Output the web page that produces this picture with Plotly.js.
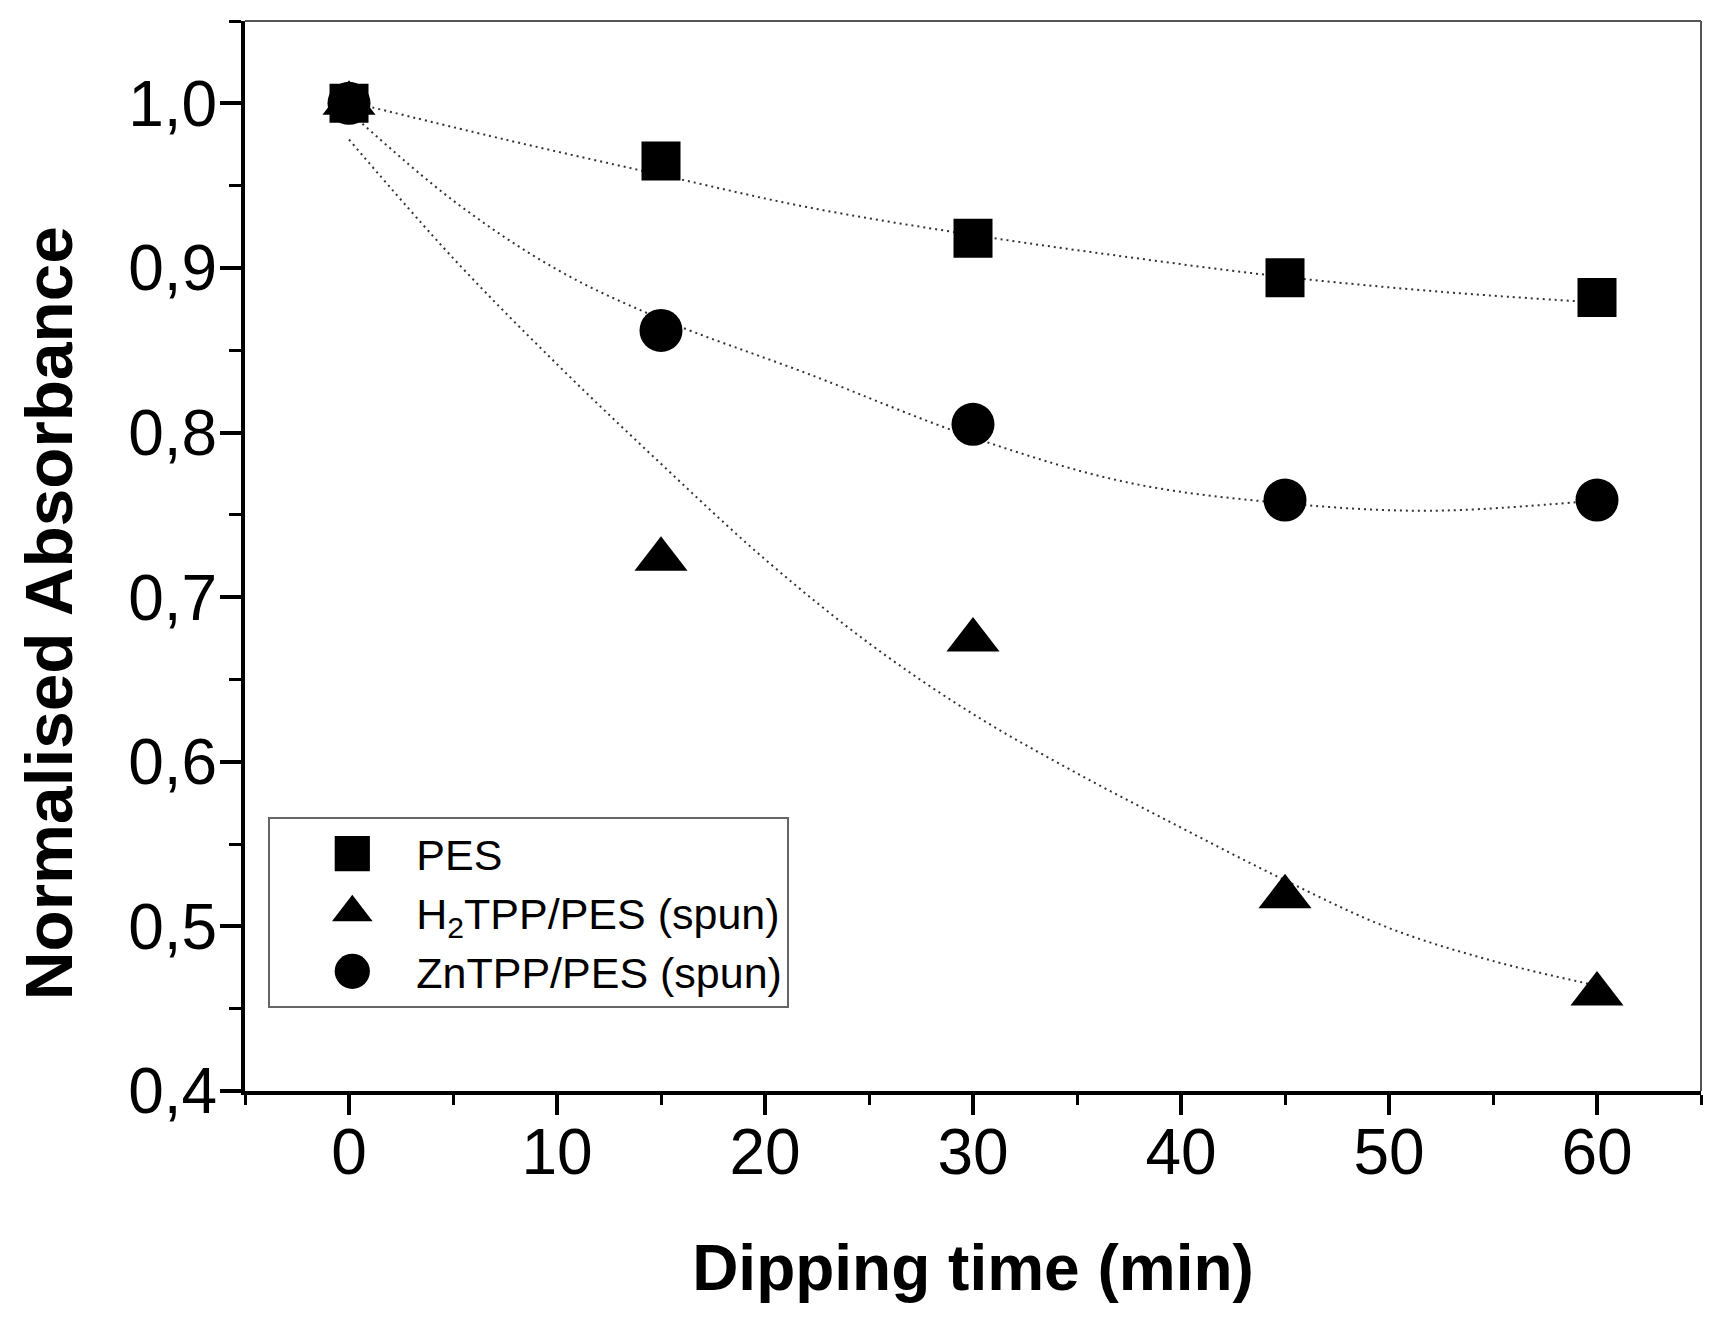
<!DOCTYPE html>
<html>
<head>
<meta charset="utf-8">
<script src="https://cdn.plot.ly/plotly-3.0.1.min.js"></script>
<style>
  body { margin: 0; background: #fff; }
  #absPlot { width: 1732px; height: 1326px; }
</style>
</head>
<body>
<div id="absPlot"></div>
<script>
/* DATA */
// dipping times (min)
let times = [0, 15, 30, 45, 60];

// measured normalised absorbance
let pesVals = [1.0, 0.965, 0.918, 0.894, 0.882];
let h2tppVals = [1.0, 0.723, 0.674, 0.518, 0.459];
let zntppVals = [1.0, 0.862, 0.805, 0.759, 0.759];

// dotted guide curves
let pesFitX = [0, 7.5, 15, 22, 30, 37.5, 45, 52.5, 60];
let pesFitY = [1.001, 0.978, 0.9565, 0.937, 0.920, 0.9065, 0.8945, 0.8855, 0.879];
let zntppFitX = [0, 5, 10, 15, 22, 30, 37.5, 45, 52, 60];
let zntppFitY = [0.995, 0.941, 0.899, 0.869, 0.836, 0.797, 0.7695, 0.757, 0.7525, 0.7588];
let h2tppFitX = [0, 5, 10, 15, 20, 25, 30, 35, 40, 45, 50, 55, 60];
let h2tppFitY = [0.978, 0.906, 0.8415, 0.781, 0.723, 0.672, 0.629, 0.593, 0.560, 0.528, 0.499, 0.479, 0.464];

let seriesNames = ['PES', 'H<sub>2</sub>TPP/PES (spun)', 'ZnTPP/PES (spun)'];

let xTitle = 'Dipping time (min)';
let yTitle = 'Normalised Absorbance';

const FONT = 'Liberation Sans, Arial, Helvetica, sans-serif';

/* TRACES */
// fit curve helper
function fitTrace(x, y) {
  return {
    type: 'scatter',
    mode: 'lines',
    x: x,
    y: y,
    showlegend: false,
    hoverinfo: 'skip',
    line: {color: '#333', width: 2, dash: '2px,4px', shape: 'spline'}
  };
}

// marker helper
function markerTrace(y, name, symbol, size) {
  return {
    type: 'scatter',
    mode: 'markers',
    x: times,
    y: y,
    name: name,
    marker: {symbol: symbol, size: size, color: 'black'}
  };
}

let data = [
  fitTrace(pesFitX, pesFitY),
  fitTrace(zntppFitX, zntppFitY),
  fitTrace(h2tppFitX, h2tppFitY),
  markerTrace(pesVals, seriesNames[0], 'square', 39),
  markerTrace(h2tppVals, seriesNames[1], 'triangle-up', 46),
  markerTrace(zntppVals, seriesNames[2], 'circle', 43)
];

/* LAYOUT */
let layout = {
  width: 1732,
  height: 1326,
  margin: {l: 245, r: 31, t: 21, b: 235},
  paper_bgcolor: 'white',
  plot_bgcolor: 'white',
  separators: ',.',
  font: {family: FONT, color: 'black'},
  xaxis: {
    range: [-5, 65],
    tickmode: 'linear',
    tick0: 0,
    dtick: 10,
    ticks: 'outside',
    ticklen: 20,
    tickwidth: 4,
    tickcolor: 'black',
    ticklabelstandoff: -18,
    tickfont: {family: FONT, size: 64, color: 'black'},
    showline: true,
    linewidth: 4,
    linecolor: 'black',
    showgrid: false,
    zeroline: false,
    minor: {dtick: 5, tick0: 0, ticks: 'outside', ticklen: 10, tickwidth: 3, tickcolor: 'black', showgrid: false},
    title: {text: xTitle, font: {family: FONT, size: 64, color: 'black', weight: 'bold'}, standoff: 59}
  },
  yaxis: {
    range: [0.4, 1.05],
    tickmode: 'linear',
    tick0: 0.4,
    dtick: 0.1,
    tickformat: '.1f',
    ticks: 'outside',
    ticklen: 21,
    tickwidth: 4,
    tickcolor: 'black',
    ticklabelstandoff: -10,
    tickfont: {family: FONT, size: 64, color: 'black'},
    showline: true,
    linewidth: 4,
    linecolor: 'black',
    showgrid: false,
    zeroline: false,
    minor: {dtick: 0.05, tick0: 0.4, ticks: 'outside', ticklen: 12, tickwidth: 3, tickcolor: 'black', showgrid: false}
  },
  annotations: [{
    text: yTitle,
    xref: 'paper', yref: 'paper',
    x: -0.135, y: 0.447,
    xanchor: 'center', yanchor: 'middle',
    textangle: -90,
    showarrow: false,
    font: {family: FONT, size: 67.5, color: 'black', weight: 'bold'}
  }],
  // thin frame on top and right
  shapes: [
    {type: 'line', xref: 'paper', yref: 'paper', x0: 0, x1: 1, y0: 1, y1: 1, line: {color: '#555', width: 2}},
    {type: 'line', xref: 'paper', yref: 'paper', x0: 1, x1: 1, y0: 0, y1: 1, line: {color: '#555', width: 2}}
  ],
  legend: {
    x: 0.016, y: 0.256,
    xanchor: 'left', yanchor: 'top',
    bgcolor: 'white',
    bordercolor: '#666',
    borderwidth: 2,
    itemwidth: 136,
    font: {family: FONT, size: 43, color: 'black'}
  }
};

Plotly.newPlot('absPlot', data, layout, {staticPlot: true}).then(function(gd) {
  // legend symbols are capped at 16px, blow them up to match the plot
  gd.querySelectorAll('.legend .legendpoints path.scatterpts').forEach(function(p) {
    let t = p.getAttribute('transform') || '';
    p.setAttribute('transform', t + ' translate(9,0) scale(2.2)');
  });
});
</script>
</body>
</html>
